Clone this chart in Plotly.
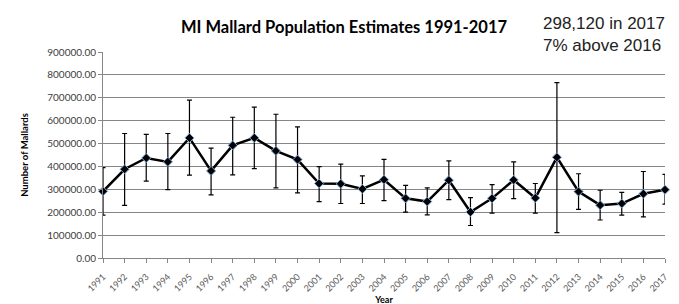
import plotly.graph_objects as go

years = list(range(1991, 2018))
estimates = [291500, 387700, 437000, 420000, 524600, 380500, 492000, 524600, 468000, 430000,
             325400, 324000, 301600, 342000, 260600, 246600, 340000, 201000, 260600, 341000,
             262000, 440000, 290000, 231000, 238000, 280500, 298120]
upper = [395000, 544000, 540000, 544000, 690000, 479700, 615000, 659000, 628000, 573000,
         399000, 410000, 359000, 431000, 317000, 306000, 424600, 263600, 321000, 420000,
         325400, 766000, 368000, 296000, 287000, 378000, 365000]
lower = [187000, 229700, 335600, 298700, 362000, 276000, 363600, 390700, 306000, 284700,
         246600, 238000, 238000, 251000, 200000, 188600, 255000, 142000, 195800, 259000,
         195800, 111000, 212700, 166000, 187000, 180000, 235000]
year_labels = [str(y) for y in years]
y_ticks = [0, 100000, 200000, 300000, 400000, 500000, 600000, 700000, 800000, 900000]

err_plus = [u - e for u, e in zip(upper, estimates)]
err_minus = [e - l for e, l in zip(estimates, lower)]

fig = go.Figure()
fig.add_trace(go.Scatter(
    x=years, y=estimates, mode="lines+markers",
    line=dict(color="black", width=2.5),
    marker=dict(symbol="diamond", size=7, color="black",
                line=dict(color="#7fa7d9", width=1)),
    error_y=dict(type="data", symmetric=False, array=err_plus, arrayminus=err_minus,
                 color="black", thickness=1.2, width=2.5),
    showlegend=False, cliponaxis=False,
))

fig.update_layout(
    width=679, height=304,
    margin=dict(l=95, r=22, t=44, b=48),
    paper_bgcolor="white", plot_bgcolor="white",
    font=dict(family="Lato, Carlito, Calibri, sans-serif", color="#404040"),
    title=dict(text="<b>MI Mallard Population Estimates 1991-2017</b>",
               x=336 / 679, xanchor="center", y=1 - 19 / 304, yanchor="middle",
               font=dict(size=16.5, color="black")),
    xaxis=dict(range=[1991, 2017], tickmode="array", tickvals=years, ticktext=year_labels,
               tickangle=-45, tickfont=dict(size=9, color="#595959"),
               showgrid=False, showline=True, linecolor="#868686", linewidth=1,
               ticks="outside", ticklen=9, tickcolor="rgba(0,0,0,0)",
               minor=dict(tickmode="array", tickvals=years, ticks="outside", ticklen=4,
                          tickcolor="#868686", showgrid=False),
               title=dict(text="<b>Year</b>", font=dict(size=9, color="black"), standoff=0),
               zeroline=False),
    yaxis=dict(range=[0, 900000], tickmode="array", tickvals=y_ticks, tickformat=".2f",
               tickfont=dict(size=10, color="#404040"),
               showgrid=True, gridcolor="#868686", gridwidth=1,
               showline=True, linecolor="#868686", linewidth=1,
               ticks="outside", ticklen=4, tickcolor="#868686",
               title=dict(text="<b>Number of Mallards</b>", font=dict(size=9.5, color="black"),
                          standoff=16),
               zeroline=False),
    annotations=[dict(
        text="298,120 in 2017<br>7% above 2016", xref="paper", yref="paper",
        x=(533 - 95) / (657 - 95), y=1 + (44 - 3) / 212, xanchor="left", yanchor="top",
        align="left", showarrow=False,
        font=dict(family="Liberation Sans, Arial, sans-serif", size=17, color="#222222"),
    )],
)

fig.write_html("out.html")
